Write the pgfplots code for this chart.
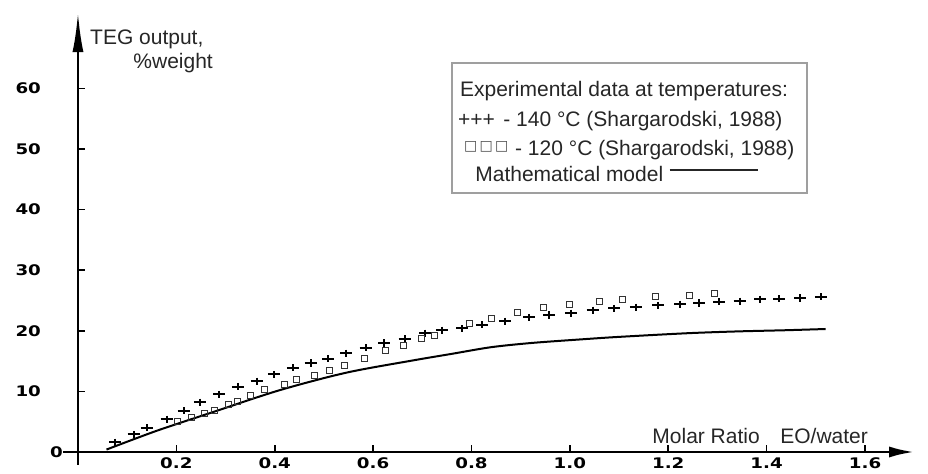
\documentclass[border=0pt]{standalone}
\usepackage{fontspec}
\setmainfont{Liberation Sans}
\newfontfamily\tickfont{DejaVu Sans}[FakeStretch=1.25]
\newfontfamily\symfont{DejaVu Sans}
\usepackage{pgfplots}
\pgfplotsset{compat=1.18}
\usetikzlibrary{arrows.meta}

\begin{document}
\begin{tikzpicture}
\begin{axis}[
    x=246pt, y=3.03pt,
    xmin=-0.03, xmax=1.70, ymin=-2.1, ymax=72.6,
    axis lines=middle,
    x axis line style={line width=1.4pt, -{Latex[length=12.5pt,width=5.5pt]}},
    y axis line style={line width=1.4pt, -{Latex[length=20pt,width=5.5pt]}},
    xtick={0.2,0.4,...,1.6},
    ytick={0,10,...,60},
    yticklabel={\ifdim\tick pt<1pt 0\kern-11pt\else\pgfmathprintnumber{\tick}\fi},
    hide obscured x ticks=false, hide obscured y ticks=false,
    tick align=inside,
    tick style={black, line width=0.8pt},
    major tick length=3.5pt,
    /pgf/number format/assume math mode=true,
    xticklabel style={font=\tickfont\bfseries\fontsize{7.3}{8}\selectfont, yshift=0.8pt,
        /pgf/number format/.cd, fixed, fixed zerofill, precision=1},
    yticklabel style={font=\tickfont\bfseries\fontsize{7.3}{8}\selectfont, xshift=-15pt},
    clip=false,
  ]
  % experimental data, 140 C
  \addplot[only marks, mark=+, mark size=3pt, mark options={line width=1pt, yscale=0.6}, black]
    coordinates {
      (0.076,1.6) (0.113,2.9) (0.140,4.0) (0.180,5.4) (0.215,6.8) (0.248,8.2)
      (0.287,9.5) (0.325,10.8) (0.363,11.7) (0.398,12.8) (0.437,13.9) (0.473,14.7)
      (0.509,15.4) (0.545,16.3) (0.585,17.2) (0.623,18.0) (0.664,18.7) (0.706,19.6)
      (0.740,20.1) (0.781,20.4) (0.822,21.0) (0.869,21.6) (0.917,22.2) (0.958,22.6)
      (1.002,22.9) (1.046,23.4) (1.090,23.7) (1.134,23.9) (1.180,24.2) (1.224,24.4)
      (1.263,24.6) (1.304,24.8) (1.345,24.9) (1.387,25.2) (1.426,25.3) (1.468,25.4)
      (1.510,25.6)
    };
  % experimental data, 120 C
  \addplot[only marks, mark=square, mark size=1.5pt, mark options={line width=0.45pt}, black!80]
    coordinates {
      (0.202,5.0) (0.231,5.7) (0.257,6.3) (0.277,6.9) (0.305,7.8) (0.325,8.4)
      (0.350,9.3) (0.380,10.3) (0.419,11.1) (0.444,11.9) (0.480,12.7) (0.512,13.5)
      (0.542,14.3) (0.583,15.4) (0.626,16.7) (0.662,17.6) (0.698,18.7) (0.725,19.3)
      (0.795,21.2) (0.840,22.1) (0.893,23.1) (0.946,23.8) (1.000,24.3) (1.060,24.8)
      (1.106,25.2) (1.173,25.6) (1.244,25.9) (1.294,26.1)
    };
  % mathematical model
  \addplot[black, line width=1pt, smooth, tension=0.5, mark=none]
    coordinates {
      (0.058,0.4) (0.16,3.5) (0.275,6.6) (0.41,10.2) (0.546,13.1) (0.68,15.1)
      (0.76,16.2) (0.84,17.3) (0.923,18.0) (1.025,18.6) (1.10,19.0) (1.238,19.6)
      (1.34,19.9) (1.44,20.1) (1.52,20.3)
    };

  \begin{scope}[every node/.style={font=\fontsize{10.5}{12}\selectfont, text=black!85, inner sep=0pt}]
    \node[anchor=base west] at (axis cs:0.024,67.2) {TEG output,};
    \node[anchor=base west] at (axis cs:0.112,63.3) {\%weight};

    \draw[gray!75, line width=1pt] (axis cs:0.760,64.2) rectangle (axis cs:1.482,42.7);
    \node[anchor=base west] at (axis cs:0.776,58.6) {Experimental data at temperatures:};
    \node[anchor=base west] at (axis cs:0.772,53.7) {+++};
    \node[anchor=base west] at (axis cs:0.864,53.7) {- 140 °C (Shargarodski, 1988)};
    \node[anchor=west, font=\symfont\fontsize{7}{7}\selectfont, text=black!70] at (axis cs:0.784,50.3) {□\,□\,□};
    \node[anchor=base west] at (axis cs:0.888,49.0) {- 120 °C (Shargarodski, 1988)};
    \node[anchor=base west] at (axis cs:0.807,44.6) {Mathematical model};
    \draw[black!85, line width=1pt] (axis cs:1.203,46.5) -- (axis cs:1.382,46.5);

    \node[anchor=base west] at (axis cs:1.167,1.4) {Molar Ratio};
    \node[anchor=base west] at (axis cs:1.427,1.4) {EO/water};
  \end{scope}

  \coordinate (bl) at (axis cs:-0.1585,-3.63);
  \coordinate (tr) at (axis cs:1.728,74.6);
\end{axis}
\pgfresetboundingbox
\useasboundingbox (bl) rectangle (tr);
\end{tikzpicture}
\end{document}
